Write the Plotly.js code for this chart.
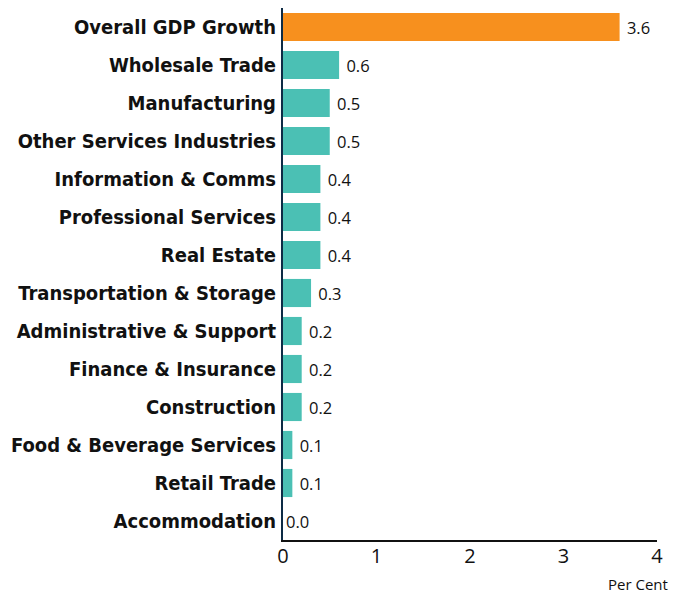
<!DOCTYPE html>
<html>
<head>
<meta charset="utf-8">
<script src="https://cdn.plot.ly/plotly-3.0.1.min.js"></script>
<style>html,body{margin:0;padding:0;background:#fff;}#chart{width:686px;height:594px;}</style>
</head>
<body>
<div id="chart"></div>
<script>
const categories = ["Overall GDP Growth","Wholesale Trade","Manufacturing","Other Services Industries","Information & Comms","Professional Services","Real Estate","Transportation & Storage","Administrative & Support","Finance & Insurance","Construction","Food & Beverage Services","Retail Trade","Accommodation"];
const values = [3.6,0.6,0.5,0.5,0.4,0.4,0.4,0.3,0.2,0.2,0.2,0.1,0.1,0.0];
const xTicks = [0,1,2,3,4];
const colors = categories.map((c,i)=> i===0 ? "#F7901E" : "#4BC0B4");

const trace = {
  type: "bar",
  orientation: "h",
  x: values,
  y: categories,
  marker: {color: colors},
  text: values.map(v=> (v > 0 ? " " : "") + v.toFixed(1)),
  textposition: "outside",
  cliponaxis: false,
  textfont: {family: "Open Sans, Noto Sans, sans-serif", size: 16.5, color: "#111"},
  hoverinfo: "none"
};

const layout = {
  width: 686, height: 594,
  margin: {l: 283, r: 29, t: 8, b: 54},
  paper_bgcolor: "#fff", plot_bgcolor: "#fff",
  showlegend: false,
  bargap: 0.26,
  xaxis: {
    range: [0, 4], tickvals: xTicks, ticktext: xTicks.map(String),
    showgrid: false, zeroline: false,
    showline: true, linecolor: "#111", linewidth: 2,
    ticks: "", ticklabelstandoff: -3,
    tickfont: {family: "Open Sans, Noto Sans, sans-serif", size: 20, color: "#111"}
  },
  yaxis: {
    categoryorder: "array", categoryarray: categories,
    autorange: "reversed",
    showgrid: false, zeroline: false,
    showline: true, linecolor: "#0d2b45", linewidth: 2,
    ticks: "", ticklabelstandoff: 1,
    tickfont: {family: "DejaVu Sans Condensed, DejaVu Sans, sans-serif", size: 20, color: "#111", weight: "bold"}
  },
  annotations: [{
    text: "Per Cent", xref: "paper", yref: "paper", x: 1.035, y: -0.082,
    xanchor: "right", yanchor: "middle", showarrow: false,
    font: {family: "Open Sans, Noto Sans, sans-serif", size: 15, color: "#111"}
  }]
};

Plotly.newPlot("chart", [trace], layout, {displayModeBar: false, staticPlot: true});
</script>
</body>
</html>
